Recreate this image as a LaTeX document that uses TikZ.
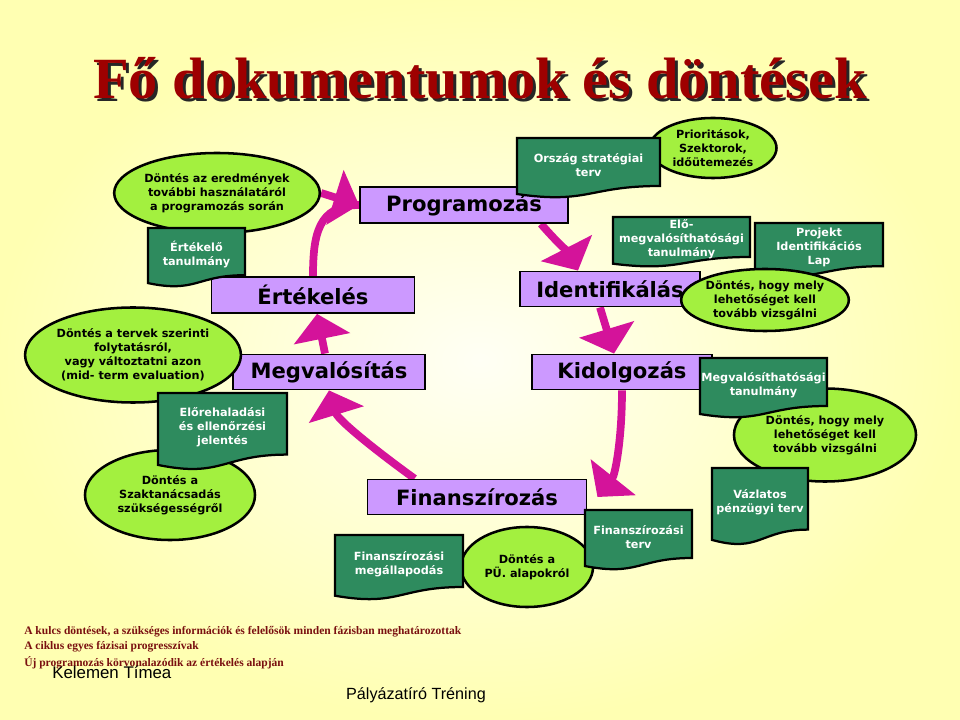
\documentclass[tikz,border=0pt]{standalone}
\usepackage{fontspec}
\setmainfont{Liberation Serif}
\newfontfamily\verd{DejaVu Sans}
\newfontfamily\arialf{Liberation Sans}
\usetikzlibrary{arrows.meta,shapes.geometric}
\definecolor{phasefill}{HTML}{CC99FF}
\definecolor{docgreen}{HTML}{2E8B5E}
\definecolor{ellgreen}{HTML}{A3F03F}
\definecolor{cycmag}{HTML}{D4139A}
\definecolor{titlered}{HTML}{9E0000}
\definecolor{footred}{HTML}{7A1010}
\pgfdeclarelayer{back}
\pgfdeclarelayer{arrowlayer}
\pgfsetlayers{back,arrowlayer,main}
\tikzset{
  phase/.style={draw=black, line width=1.3pt, fill=phasefill, inner sep=0pt,
    font=\verd\bfseries\fontsize{15}{17}\selectfont},
  decision/.style={ellipse, draw=black, line width=1.8pt, fill=ellgreen, inner sep=0pt,
    align=center, font=\verd\bfseries\fontsize{8}{10}\selectfont},
  docbox/.style={draw=black, line width=1.6pt, fill=docgreen},
  doctext/.style={text=white, align=center, inner sep=0pt,
    font=\verd\bfseries\fontsize{8}{10}\selectfont},
  cyc/.style={draw=cycmag, line width=5.5pt, -{Triangle[width=40pt,length=18pt]}},
  foot/.style={text=footred, anchor=west, inner sep=0pt, font=\bfseries\fontsize{8.2}{10}\selectfont},
}
% document shape with wavy bottom: name, left, top, right, bottom, text
\newcommand\greendoc[6]{%
  \filldraw[docbox] (#2,#3) -- (#4,#3) -- ({#4},{#3+0.8*(#5-#3)})
    .. controls ({(#2+#4)/2},{#3+0.8*(#5-#3)}) and ({(#2+#4)/2},{#3+1.107*(#5-#3)}) ..
    ({#2},{#3+0.934*(#5-#3)}) -- cycle;
  \node[doctext] (#1) at ({(#2+#4)/2},{#3+0.45*(#5-#3)}) {#6};}
\begin{document}
\begin{tikzpicture}[x=0.025cm, y=-0.025cm]
  \begin{pgfonlayer}{back}
    \shade[inner color=yellow!4, outer color=yellow!30] (0,0) rectangle (960,720);
  \end{pgfonlayer}
  \useasboundingbox (0,0) rectangle (960,720);

  % title
  \node[text=black!85, font=\bfseries\fontsize{41.5}{44}\selectfont] (titleshadow) at (483,81) {Fő dokumentumok és döntések};
  \node[text=titlered, font=\bfseries\fontsize{41.5}{44}\selectfont] (title) at (480,78) {Fő dokumentumok és döntések};

  % phases
  \node[phase, minimum width=5.2cm, minimum height=0.9cm] (prog) at (464,205) {Programozás};
  \node[phase, minimum width=5.075cm, minimum height=0.9cm] (ert) at (313,295) {Értékelés};
  \node[phase, minimum width=4.8cm, minimum height=0.875cm] (megv) at (329,372) {Megvalósítás};
  \node[phase, minimum width=4.5cm, minimum height=0.875cm] (ident) at (610,289) {Identifikálás};
  \node[phase, minimum width=4.5cm, minimum height=0.875cm] (kid) at (622,372) {Kidolgozás};
  \node[phase, minimum width=5.475cm, minimum height=0.875cm] (fin) at (477,497) {Finanszírozás};

  % decisions
  \node[decision, minimum width=4cm, minimum height=2cm] (dontprog) at (217,193)
    {Döntés az eredmények\\további használatáról\\a programozás során};
  \node[decision, minimum width=4.55cm, minimum height=2.375cm] (donttov) at (133,355)
    {Döntés a tervek szerinti\\folytatásról,\\vagy változtatni azon\\(mid- term evaluation)};
  \node[decision, minimum width=4.25cm, minimum height=2.25cm] (dontszak) at (170,495)
    {Döntés a\\Szaktanácsadás\\szükségességről};
  \node[decision, minimum width=3.175cm, minimum height=1.5cm] (prior) at (713,148)
    {Prioritások,\\Szektorok,\\időütemezés};
  \node[decision, minimum width=4.55cm, minimum height=2.325cm] (dontkid) at (825,435)
    {Döntés, hogy mely\\lehetőséget kell\\tovább vizsgálni};
  \node[decision, minimum width=3.3cm, minimum height=2cm] (dontpu) at (527,567)
    {Döntés a\\PÜ. alapokról};

  % documents
  \greendoc{ertdoc}{148}{228}{245}{287}{Értékelő\\tanulmány}
  \greendoc{elorep}{158}{393}{287}{470}{Előrehaladási\\és ellenőrzési\\jelentés}
  \greendoc{orszag}{517}{138}{660}{198}{Ország stratégiai\\terv}
  \greendoc{elomeg}{613}{217}{750}{267}{Elő-\\megvalósíthatósági\\tanulmány}
  \greendoc{pil}{755}{223}{883}{277}{Projekt\\Identifikációs\\Lap}
  \greendoc{megvt}{700}{358}{827}{418}{Megvalósíthatósági\\tanulmány}
  \greendoc{vazlat}{712}{468}{808}{545}{Vázlatos\\pénzügyi terv}
  \greendoc{finterv}{585}{510}{692}{570}{Finanszírozási\\terv}
  \greendoc{finmeg}{335}{535}{463}{600}{Finanszírozási\\megállapodás}

  \node[decision, minimum width=3.75cm, minimum height=1.55cm] (dontid) at (765,300)
    {Döntés, hogy mely\\lehetőséget kell\\tovább vizsgálni};

  % cycle arrows
  \begin{pgfonlayer}{arrowlayer}
    \draw[cyc] ([xshift=1.2cm]fin.north west) .. controls (375,450) and (338,420) .. (megv.south);
    \draw[cyc] ([xshift=-0.1cm]megv.north) -- ([xshift=0.1cm]ert.south);
    \draw[draw=cycmag, line width=5.5pt] (ert.north) .. controls (313,235) and (318,205) .. (prog.west);
    \draw[cyc] (dontprog.east) -- (prog.west);
    \draw[cyc] ([xshift=-0.7cm]prog.south east) .. controls (555,240) and (570,255) .. ([xshift=-0.8cm]ident.north);
    \draw[cyc] ([xshift=-0.25cm]ident.south) -- ([xshift=-0.2cm]kid.north);
    \draw[cyc] (kid.south) .. controls (622,440) and (615,475) .. ([xshift=0.25cm]fin.east);
  \end{pgfonlayer}

  % footer
  \node[foot] (key1) at (24,632) {A kulcs döntések, a szükséges információk és felelősök minden fázisban meghatározottak};
  \node[foot] (key2) at (24,647) {A ciklus egyes fázisai progresszívak};
  \node[foot] (key3) at (24,663) {Új programozás körvonalazódik az értékelés alapján};
  \node[anchor=west, inner sep=0pt, font=\arialf\fontsize{12}{14}\selectfont] (author) at (52,672) {Kelemen Tímea};
  \node[inner sep=0pt, font=\arialf\fontsize{11.5}{14}\selectfont] (course) at (416,695) {Pályázatíró Tréning};
\end{tikzpicture}
\end{document}
